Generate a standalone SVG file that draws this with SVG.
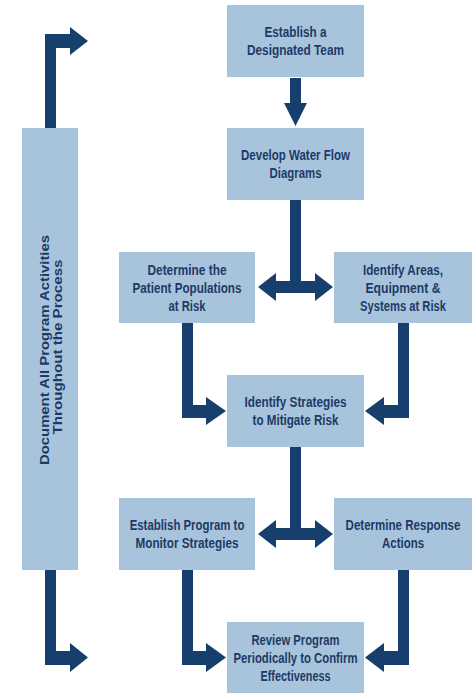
<svg xmlns="http://www.w3.org/2000/svg" width="474" height="699" viewBox="0 0 474 699">
<style>
.box{fill:#a8c4dc}
.t{font-family:"Liberation Sans",Arial,sans-serif;font-weight:bold;font-size:14px;fill:#1d3a66;text-anchor:middle}
.tv{font-family:"Liberation Sans",Arial,sans-serif;font-weight:bold;font-size:12.5px;fill:#1d3a66;text-anchor:middle}
.arr{fill:#173f6d}
</style>
<rect width="474" height="699" fill="#ffffff"/>
<g id="connectors">
<path class="arr" d="M290,78 H301 V103 H307 L295.5,126 L284,103 H290 Z"/>
<path class="arr" d="M290,200 H301 V281 H315 V273 L333,287 L315,301 V293 H276 V301 L258,287 L276,273 V281 H290 Z"/>
<path class="arr" d="M182,323 V418 H206 V425 L226,411 L206,397 V405 H193 V323 Z"/>
<path class="arr" d="M409,323 V418 H384 V425 L365,411 L384,397 V405 H398 V323 Z"/>
<path class="arr" d="M290,447 H301 V528 H315 V520 L333,534 L315,548 V540 H276 V548 L258,534 L276,520 V528 H290 Z"/>
<path class="arr" d="M182,570 V665 H206 V672 L226,657.5 L206,643 V651 H193 V570 Z"/>
<path class="arr" d="M409,570 V665 H384 V672 L365,657.5 L384,643 V651 H398 V570 Z"/>
<path class="arr" d="M45,128 V34 H70 V27 L88,41 L70,55 V48 H56 V128 Z"/>
<path class="arr" d="M45,570 V665 H70 V672 L88,657.5 L70,643 V651 H56 V570 Z"/>
</g>
<g id="n1">
<rect class="box" x="227" y="5" width="137" height="72"/>
<text class="t" x="295.5" y="37" textLength="62" lengthAdjust="spacingAndGlyphs">Establish a</text>
<text class="t" x="295.5" y="55" textLength="97" lengthAdjust="spacingAndGlyphs">Designated Team</text>
</g>
<g id="n2">
<rect class="box" x="227" y="128" width="137" height="72"/>
<text class="t" x="295.5" y="160" textLength="109" lengthAdjust="spacingAndGlyphs">Develop Water Flow</text>
<text class="t" x="295.5" y="178" textLength="52" lengthAdjust="spacingAndGlyphs">Diagrams</text>
</g>
<g id="n3">
<rect class="box" x="119" y="252" width="136" height="71"/>
<text class="t" x="187" y="275" textLength="79" lengthAdjust="spacingAndGlyphs">Determine the</text>
<text class="t" x="187" y="293" textLength="109" lengthAdjust="spacingAndGlyphs">Patient Populations</text>
<text class="t" x="187" y="311" textLength="37" lengthAdjust="spacingAndGlyphs">at Risk</text>
</g>
<g id="n4">
<rect class="box" x="334" y="252" width="138" height="71"/>
<text class="t" x="403" y="275" textLength="80" lengthAdjust="spacingAndGlyphs">Identify Areas,</text>
<text class="t" x="403" y="293" textLength="75" lengthAdjust="spacingAndGlyphs">Equipment &amp;</text>
<text class="t" x="403" y="311" textLength="86" lengthAdjust="spacingAndGlyphs">Systems at Risk</text>
</g>
<g id="n5">
<rect class="box" x="227" y="375" width="137" height="72"/>
<text class="t" x="295.5" y="407" textLength="102" lengthAdjust="spacingAndGlyphs">Identify Strategies</text>
<text class="t" x="295.5" y="425" textLength="86" lengthAdjust="spacingAndGlyphs">to Mitigate Risk</text>
</g>
<g id="n6">
<rect class="box" x="119" y="498" width="136" height="72"/>
<text class="t" transform="translate(187,530) scale(0.815,1)">Establish Program to</text>
<text class="t" x="187" y="548" textLength="103" lengthAdjust="spacingAndGlyphs">Monitor Strategies</text>
</g>
<g id="n7">
<rect class="box" x="334" y="498" width="138" height="72"/>
<text class="t" transform="translate(403,530) scale(0.825,1)">Determine Response</text>
<text class="t" x="403" y="548" textLength="42" lengthAdjust="spacingAndGlyphs">Actions</text>
</g>
<g id="n8">
<rect class="box" x="227" y="622" width="137" height="71"/>
<text class="t" x="295.5" y="645" textLength="88" lengthAdjust="spacingAndGlyphs">Review Program</text>
<text class="t" x="295.5" y="663" textLength="124" lengthAdjust="spacingAndGlyphs">Periodically to Confirm</text>
<text class="t" x="295.5" y="681" textLength="70" lengthAdjust="spacingAndGlyphs">Effectiveness</text>
</g>
<g id="n9">
<rect class="box" x="22" y="128" width="56" height="442"/>
<g transform="translate(50,350) rotate(-90)">
<text class="tv" x="0" y="-1" textLength="230" lengthAdjust="spacingAndGlyphs">Document All Program Activities</text>
<text class="tv" x="3" y="12" textLength="175" lengthAdjust="spacingAndGlyphs">Throughout the Process</text>
</g>
</g>
</svg>
